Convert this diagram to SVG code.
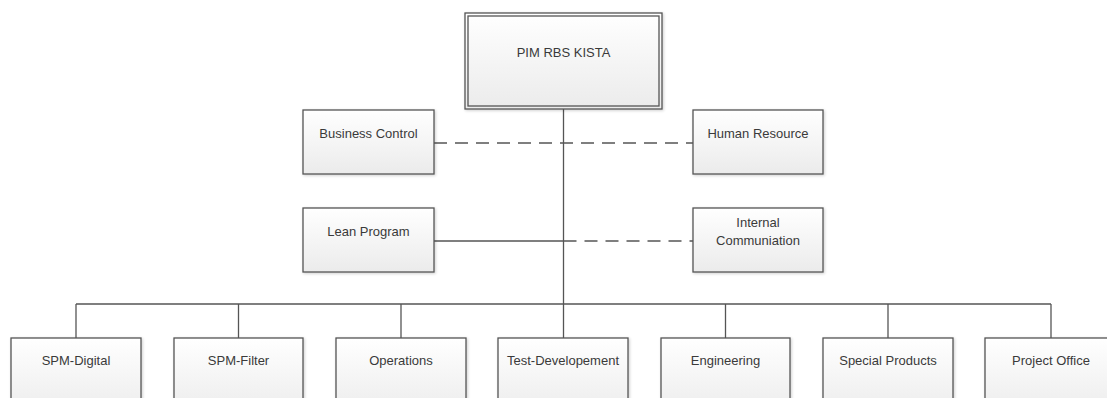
<svg xmlns="http://www.w3.org/2000/svg" width="1107" height="398" viewBox="0 0 1107 398">
<defs>
<linearGradient id="g" x1="0" y1="0" x2="0" y2="1">
<stop offset="0" stop-color="#ffffff"/>
<stop offset="1" stop-color="#ebebeb"/>
</linearGradient>
<filter id="sh" x="-10%" y="-10%" width="120%" height="120%">
<feGaussianBlur in="SourceAlpha" stdDeviation="1.5"/>
<feOffset dx="1" dy="1" result="b"/>
<feComponentTransfer><feFuncA type="linear" slope="0.2"/></feComponentTransfer>
<feMerge><feMergeNode/><feMergeNode in="SourceGraphic"/></feMerge>
</filter>
</defs>
<style>
.box{fill:url(#g);stroke:#555;stroke-width:1.3;filter:url(#sh)}
.in{fill:none;stroke:#555;stroke-width:1.3}
.t{font-family:"Liberation Sans",Arial,sans-serif;font-size:13px;fill:#3a3a3a;text-anchor:middle}
.s{stroke:#555;stroke-width:1.3;fill:none}
.d{stroke:#555;stroke-width:1.3;fill:none;stroke-dasharray:13,8}
</style>
<rect width="1107" height="398" fill="#ffffff"/>
<g id="connectors">
<line class="s" x1="563.5" y1="109" x2="563.5" y2="338"/>
<line class="d" x1="434" y1="143" x2="693" y2="143"/>
<line class="s" x1="434" y1="241" x2="563.5" y2="241"/>
<line class="d" x1="563.5" y1="241" x2="693" y2="241"/>
<line class="s" x1="76" y1="304" x2="1051" y2="304"/>
<line class="s" x1="76" y1="304" x2="76" y2="338"/>
<line class="s" x1="238.5" y1="304" x2="238.5" y2="338"/>
<line class="s" x1="401" y1="304" x2="401" y2="338"/>
<line class="s" x1="725.5" y1="304" x2="725.5" y2="338"/>
<line class="s" x1="888" y1="304" x2="888" y2="338"/>
<line class="s" x1="1051" y1="304" x2="1051" y2="338"/>
</g>
<g id="pim">
<rect class="box" x="465" y="13" width="197" height="96"/>
<rect class="in" x="468" y="16" width="191" height="90"/>
<text class="t" x="563.5" y="57">PIM RBS KISTA</text>
</g>
<g id="business-control">
<rect class="box" x="303" y="110" width="131" height="64"/>
<text class="t" x="368.5" y="138">Business Control</text>
</g>
<g id="human-resource">
<rect class="box" x="693" y="110" width="130" height="64"/>
<text class="t" x="758" y="138">Human Resource</text>
</g>
<g id="lean-program">
<rect class="box" x="303" y="208" width="131" height="64"/>
<text class="t" x="368.5" y="236">Lean Program</text>
</g>
<g id="internal-communiation">
<rect class="box" x="693" y="208" width="130" height="64"/>
<text class="t" x="758" y="227">Internal</text>
<text class="t" x="758" y="245">Communiation</text>
</g>
<g id="spm-digital">
<rect class="box" x="11" y="338" width="130" height="80"/>
<text class="t" x="76" y="365">SPM-Digital</text>
</g>
<g id="spm-filter">
<rect class="box" x="174" y="338" width="129" height="80"/>
<text class="t" x="238.5" y="365">SPM-Filter</text>
</g>
<g id="operations">
<rect class="box" x="336" y="338" width="130" height="80"/>
<text class="t" x="401" y="365">Operations</text>
</g>
<g id="test-developement">
<rect class="box" x="498" y="338" width="130" height="80"/>
<text class="t" x="563" y="365">Test-Developement</text>
</g>
<g id="engineering">
<rect class="box" x="661" y="338" width="129" height="80"/>
<text class="t" x="725.5" y="365">Engineering</text>
</g>
<g id="special-products">
<rect class="box" x="823" y="338" width="130" height="80"/>
<text class="t" x="888" y="365">Special Products</text>
</g>
<g id="project-office">
<rect class="box" x="985" y="338" width="132" height="80"/>
<text class="t" x="1051" y="365">Project Office</text>
</g>
</svg>
